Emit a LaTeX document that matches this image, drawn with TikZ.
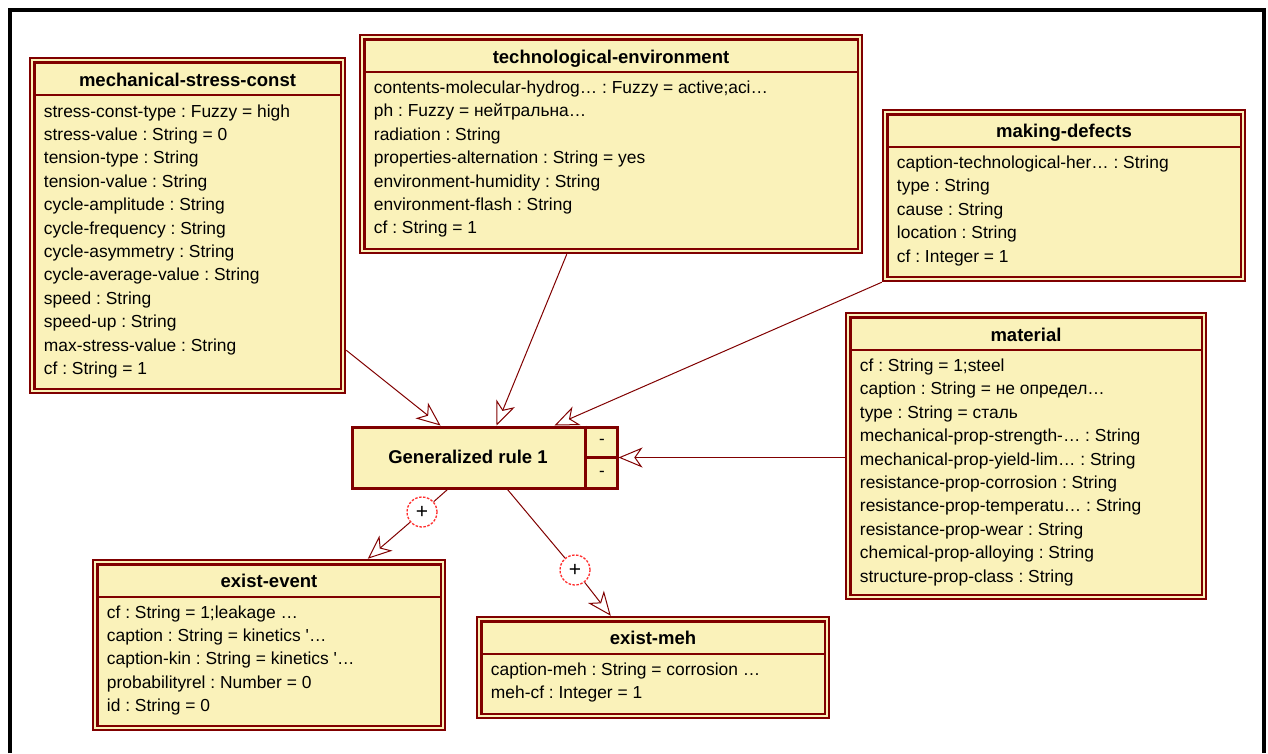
\documentclass[tikz,border=0pt]{standalone}
\usepackage{fontspec}
\setmainfont{Liberation Sans}
\usetikzlibrary{arrows.meta,calc,fit}
\frenchspacing

\definecolor{boxfill}{RGB}{250,242,186}
\definecolor{boxline}{RGB}{128,0,0}
\definecolor{markred}{RGB}{255,45,45}

\tikzset{
  cbox/.style={rectangle, draw=boxline, line width=2.5pt, fill=boxfill, inner sep=0pt},
  cline/.style={draw=boxline, line width=2.5pt},
  rulebox/.style={rectangle, draw=boxline, line width=3pt, fill=boxfill, inner sep=0pt},
  ctitle/.style={font=\fontsize{18.5}{20}\selectfont\bfseries, anchor=base, inner sep=0pt},
  crow/.style={font=\fontsize{17.4}{20}\selectfont, anchor=base west, inner sep=0pt},
  minus/.style={font=\fontsize{17}{20}\selectfont, inner sep=0pt},
  conn/.style={draw=boxline, line width=1pt},
  tip/.style={-{Stealth[open, length=24pt, width=20pt, inset=7pt]}},
  plusmark/.style={circle, draw=markred, fill=white, line width=1.3pt,
    dash pattern=on 2.5pt off 1.5pt, minimum size=30pt, inner sep=0pt,
    font=\fontsize{21}{22}\selectfont},
}

% #1 name, #2 left, #3 top, #4 right, #5 bottom,
% #6 title baseline, #7 first row baseline, #8 title, #9 attribute rows
\newcommand\classbox[9]{%
  \node[cbox, fit={(#2,#3) (#4,#5)}] (#1) {};
  \draw[cline] ([shift={(5.5pt,-5.5pt)}]#1.north west) rectangle ([shift={(-5.5pt,5.5pt)}]#1.south east);
  \draw[cline] ([shift={(5.5pt,-38pt)}]#1.north west) -- ([shift={(-5.5pt,-38pt)}]#1.north east);
  \node[ctitle] (#1-title) at (#1.north |- 0,#6) {#8};
  \foreach \rtext [count=\i from 0] in {#9}
    \node[crow] (#1-r\i) at ($(#1.west |- 0,#7) + (15,{\i*23.4})$) {\rtext};
}

\begin{document}
\begin{tikzpicture}[x=1pt, y=-1pt]
\useasboundingbox (0,0) rectangle (1268,753);

% outer frame, open at the bottom
\draw[black, line width=4pt] (9.5,753) -- (9.5,9.5) -- (1263.5,9.5) -- (1263.5,753);

\classbox{msc}{30}{58}{345}{393}{86}{117}{mechanical-stress-const}{%
  {stress-const-type : Fuzzy = high},
  {stress-value : String = 0},
  {tension-type : String},
  {tension-value : String},
  {cycle-amplitude : String},
  {cycle-frequency : String},
  {cycle-asymmetry : String},
  {cycle-average-value : String},
  {speed : String},
  {speed-up : String},
  {max-stress-value : String},
  {cf : String = 1}}

\classbox{tech}{360}{35}{862}{253}{63}{93.5}{technological-environment}{%
  {contents-molecular-hydrog… : Fuzzy = active;aci…},
  {ph : Fuzzy = нейтральна…},
  {radiation : String},
  {properties-alternation : String = yes},
  {environment-humidity : String},
  {environment-flash : String},
  {cf : String = 1}}

\classbox{md}{883}{110}{1245}{281}{137}{168.5}{making-defects}{%
  {caption-technological-her… : String},
  {type : String},
  {cause : String},
  {location : String},
  {cf : Integer = 1}}

\classbox{mat}{846}{313}{1206}{599}{341}{371.5}{material}{%
  {cf : String = 1;steel},
  {caption : String = не определ…},
  {type : String = сталь},
  {mechanical-prop-strength-… : String},
  {mechanical-prop-yield-lim… : String},
  {resistance-prop-corrosion : String},
  {resistance-prop-temperatu… : String},
  {resistance-prop-wear : String},
  {chemical-prop-alloying : String},
  {structure-prop-class : String}}

\classbox{ev}{93}{560}{445}{730}{587}{618}{exist-event}{%
  {cf : String = 1;leakage …},
  {caption : String = kinetics \textquotesingle…},
  {caption-kin : String = kinetics \textquotesingle…},
  {probabilityrel : Number = 0},
  {id : String = 0}}

\classbox{meh}{477}{617}{829}{718}{644}{675}{exist-meh}{%
  {caption-meh : String = corrosion …},
  {meh-cf : Integer = 1}}

% the rule with its two condition slots
\node[rulebox, fit={(352,427) (617,488)}] (rule) {};
\draw[cline, line width=3pt] ([xshift=-33pt]rule.north east) -- ([xshift=-33pt]rule.south east);
\draw[cline, line width=3pt] ([xshift=-33pt]rule.east) -- (rule.east);
\node[ctitle] (rule-title) at (468,463) {Generalized rule 1};
\node[minus] (rule-m1) at ($(rule.north east)!0.5!(rule.east) + (-16.5,0)$) {-};
\node[minus] (rule-m2) at ($(rule.south east)!0.5!(rule.east) + (-16.5,0)$) {-};

% conditions flowing into the rule
\draw[conn, tip] ([yshift=44pt]msc.south east) -- ([xshift=90pt]rule.north west);
\draw[conn, tip] ([xshift=208pt]tech.south west) -- ([xshift=146pt]rule.north west);
\draw[conn, tip] (md.south west) -- ([xshift=204pt]rule.north west);
\draw[conn, tip] (rule.east -| mat.west) -- (rule.east);

% conclusions of the rule
\node[plusmark] (c1) at (422,512) {+};
\node[plusmark] (c2) at (575,570) {+};
\draw[conn] ([xshift=97pt]rule.south west) -- (c1);
\draw[conn, tip] (c1) -- ([xshift=276pt]ev.north west);
\draw[conn] ([xshift=157pt]rule.south west) -- (c2);
\draw[conn, tip] (c2) -- ([xshift=135pt]meh.north west);
\end{tikzpicture}
\end{document}
